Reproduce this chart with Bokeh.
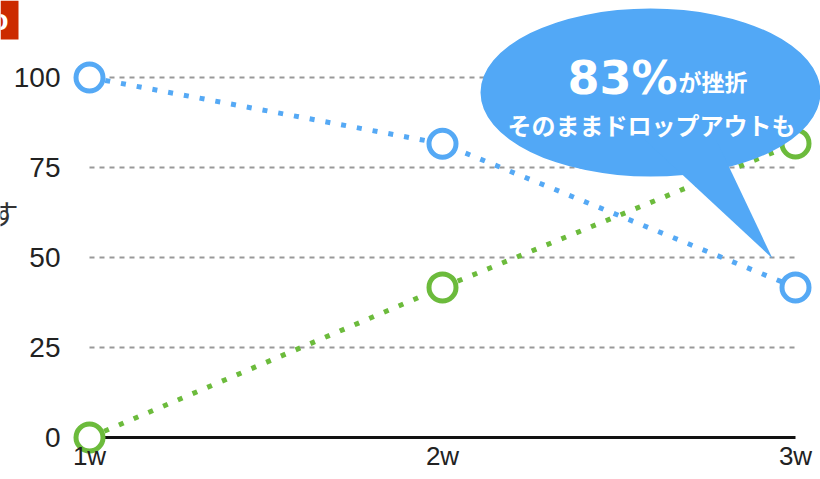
from bokeh.plotting import figure
from bokeh.models import Range1d, FixedTicker, Label, ColumnDataSource
from bokeh.embed import file_html
from bokeh.resources import INLINE

# ---- data ----
weeks = ["1w", "2w", "3w"]
week_pos = [0, 1, 2]
blue_vals = [100, 81.6, 41.7]
green_vals = [0, 41.7, 81.7]
y_ticks = [0, 25, 50, 75, 100]
grid_levels = [25, 50, 75, 100]

BLUE = "#55a9f5"
GREEN = "#6cbb3c"
CALL = "#52a8f6"

# canvas-pixel helpers for annotation placement (not data)
def dx(px):
    return (px - 89) / 353.0

def dy(py):
    return (437 - py) / 3.6

p = figure(width=820, height=479, output_backend="svg", toolbar_location=None,
           x_range=Range1d(dx(0), dx(820)), y_range=Range1d(dy(460), dy(0)),
           min_border_left=0, min_border_right=0, min_border_top=0, min_border_bottom=19)
p.outline_line_color = None
p.xgrid.visible = False
p.ygrid.visible = False
p.background_fill_color = "white"
p.border_fill_color = "white"

# y axis (labels drawn inside the frame area)
ya = p.yaxis[0]
ya.ticker = FixedTicker(ticks=y_ticks)
ya.axis_line_color = None
ya.major_tick_line_color = None
ya.minor_tick_line_color = None
ya.major_tick_in = 0
ya.major_tick_out = 0
ya.major_label_standoff = -60
ya.major_label_text_font = "Liberation Sans"
ya.major_label_text_font_size = "28px"
ya.major_label_text_color = "#222222"

# x axis
xa = p.xaxis[0]
xa.ticker = FixedTicker(ticks=week_pos)
xa.major_label_overrides = {pos: lab for pos, lab in zip(week_pos, weeks)}
xa.axis_line_color = None
xa.major_tick_line_color = None
xa.minor_tick_line_color = None
xa.major_tick_in = 0
xa.major_tick_out = 0
xa.major_label_standoff = -20
xa.major_label_text_font = "Liberation Sans"
xa.major_label_text_font_size = "26px"
xa.major_label_text_color = "#222222"

# cropped red badge at top-left corner
p.quad(left=[dx(0)], right=[dx(18)], top=[dy(0)], bottom=[dy(39)],
       fill_color="#cc2a00", line_color=None)
p.add_layout(Label(x=dx(8), y=dy(19), text="o", text_align="right",
                   text_baseline="middle", text_font="Liberation Sans",
                   text_font_style="bold", text_font_size="30px", text_color="white"))

# dashed grid lines between first and last week
p.segment(x0=[week_pos[0]] * len(grid_levels), y0=grid_levels,
          x1=[week_pos[-1]] * len(grid_levels), y1=grid_levels,
          line_color="#999999", line_width=2, line_dash="5 5")
# baseline
p.segment(x0=[week_pos[0]], y0=[y_ticks[0]], x1=[week_pos[-1]], y1=[y_ticks[0]],
          line_color="#111111", line_width=3)

src = ColumnDataSource(dict(x=week_pos, blue=blue_vals, green=green_vals))
p.line("x", "green", source=src, line_color=GREEN, line_width=5, line_dash="5 11")
p.line("x", "blue", source=src, line_color=BLUE, line_width=5, line_dash="5 11")
p.scatter("x", "green", source=src, size=27, line_width=5, line_color=GREEN,
          fill_color="white")
p.scatter("x", "blue", source=src, size=27, line_width=5, line_color=BLUE,
          fill_color="white")

# callout bubble
p.ellipse(x=[dx(650)], y=[dy(92)], width=340, height=168, width_units="screen",
          height_units="screen", fill_color=CALL, line_color=None)
p.patch(x=[dx(645), dx(716), dx(772)], y=[dy(140), dy(140), dy(258)],
        fill_color=CALL, line_color=None)

p.add_layout(Label(x=dx(677), y=dy(77), text="83%", text_align="right",
                   text_baseline="alphabetic", text_font="DejaVu Sans",
                   text_font_style="bold", text_font_size="46px", text_color="white"))
p.add_layout(Label(x=dx(678), y=dy(80), text="が挫折", text_align="left",
                   text_baseline="alphabetic", text_font="Noto Sans CJK JP",
                   text_font_style="bold", text_font_size="23px", text_color="white"))
p.add_layout(Label(x=dx(651), y=dy(124), text="そのままドロップアウトも",
                   text_align="center", text_baseline="middle",
                   text_font="Noto Sans CJK JP", text_font_style="bold",
                   text_font_size="24px", text_color="white"))

# cropped fragment of a side text at the left edge
p.add_layout(Label(x=dx(18), y=dy(212), text="す", text_align="right",
                   text_baseline="middle", text_font="Noto Sans CJK JP",
                   text_font_size="28px", text_color="#333333"))

open("out.html", "w").write(file_html(p, INLINE))
